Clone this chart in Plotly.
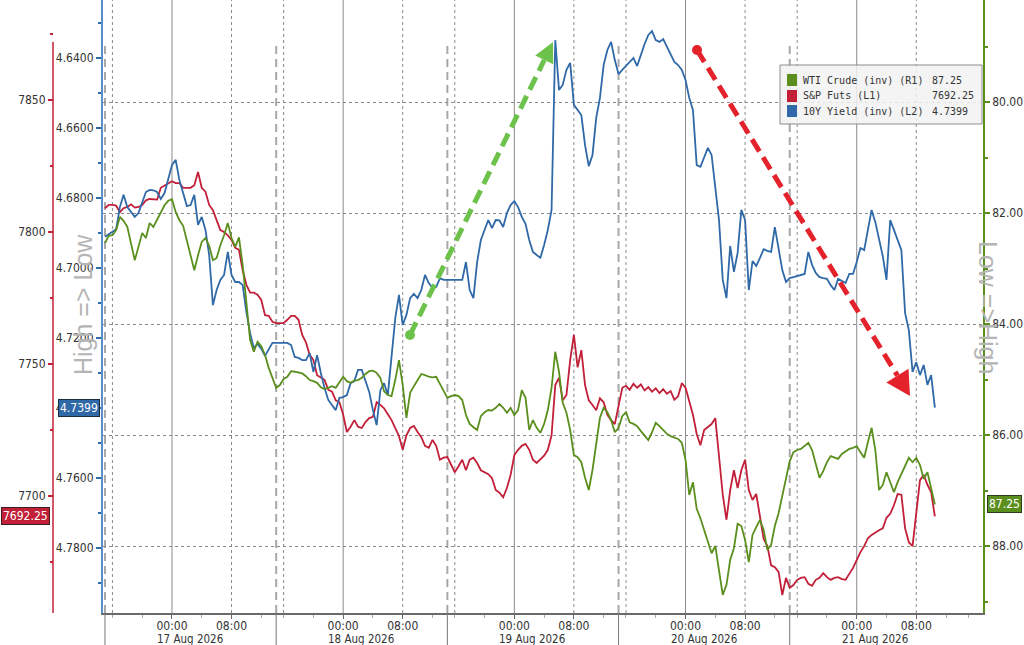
import math

import pandas as pd
import plotly.graph_objects as go

# 30-minute bars (Pacific time); the daily Globex break 14:00-15:00 is skipped
times = pd.date_range("2026-08-16 15:00", "2026-08-21 10:30", freq="30min")
times = times[times.hour != 14]

spx_futs = [
    7809.0, 7810.25, 7810.25, 7810.0, 7807.5, 7809.0, 7809.5, 7810.5, 7809.25, 7809.5,
    7810.25, 7812.0, 7812.5, 7812.5, 7812.25, 7816.75, 7817.5, 7818.5, 7819.25, 7818.5,
    7818.5, 7816.75, 7816.75, 7816.75, 7817.75, 7822.75, 7816.75, 7815.25, 7810.25, 7808.25,
    7804.5, 7800.75, 7800.0, 7798.75, 7797.0, 7794.0, 7793.25, 7785.5, 7780.0, 7777.0,
    7777.0, 7776.25, 7774.25, 7768.5, 7768.25, 7766.0, 7765.5, 7765.5, 7765.5, 7766.75,
    7768.25, 7768.25, 7766.75, 7761.0, 7758.25, 7753.5, 7751.5, 7745.75, 7744.75, 7744.0,
    7740.25, 7739.5, 7736.25, 7735.5, 7730.75, 7724.25, 7726.25, 7728.75, 7726.25, 7725.75,
    7728.0, 7729.5, 7730.0, 7735.5, 7734.5, 7733.25, 7731.0, 7728.75, 7725.75, 7722.75,
    7717.5, 7723.0, 7725.75, 7726.5, 7724.25, 7722.25, 7719.0, 7718.25, 7721.25, 7719.0,
    7713.75, 7714.5, 7714.75, 7711.75, 7709.0, 7711.25, 7713.75, 7709.75, 7713.75, 7714.5,
    7712.5, 7709.75, 7709.0, 7708.25, 7706.75, 7702.25, 7701.25, 7699.5, 7703.0, 7708.0,
    7715.5, 7717.5, 7719.0, 7719.75, 7717.5, 7713.75, 7712.5, 7713.75, 7715.25, 7717.5,
    7723.0, 7742.0, 7744.75, 7736.25, 7738.25, 7751.5, 7761.0, 7748.75, 7755.25, 7742.0,
    7736.25, 7734.5, 7732.5, 7737.0, 7735.5, 7730.75, 7728.75, 7727.25, 7733.75, 7741.0,
    7741.75, 7740.25, 7742.5, 7741.0, 7742.25, 7740.0, 7741.25, 7739.5, 7740.75, 7739.0,
    7740.5, 7738.75, 7739.75, 7736.5, 7737.75, 7742.75, 7741.0, 7735.5, 7730.75, 7723.5,
    7719.25, 7725.0, 7726.25, 7727.25, 7729.5, 7714.5, 7700.5, 7691.0, 7702.25, 7709.75,
    7703.0, 7709.75, 7713.75, 7702.25, 7698.5, 7700.75, 7692.75, 7683.75, 7681.0, 7673.75,
    7673.0, 7671.25, 7662.5, 7669.0, 7665.25, 7666.25, 7668.25, 7669.0, 7669.25, 7666.75,
    7666.0, 7668.25, 7669.0, 7670.75, 7669.25, 7668.25, 7669.0, 7669.25, 7668.5, 7668.25,
    7670.5, 7672.75, 7675.75, 7678.75, 7681.0, 7684.0, 7685.25, 7686.25, 7687.0, 7687.75,
    7691.75, 7693.25, 7696.5, 7700.75, 7700.5, 7687.75, 7682.5, 7681.0, 7692.75, 7706.0,
    7708.0, 7704.25, 7701.5, 7692.25,
]

us10y = [
    4.6911, 4.6903, 4.6897, 4.6889, 4.6826, 4.6791, 4.6826, 4.6840, 4.6854, 4.6843,
    4.6814, 4.6783, 4.6777, 4.6778, 4.6783, 4.6803, 4.6786, 4.6743, 4.6706, 4.6691,
    4.6749, 4.6786, 4.6823, 4.6820, 4.6791, 4.6877, 4.6854, 4.6891, 4.6963, 4.7106,
    4.7063, 4.7034, 4.7020, 4.6954, 4.7020, 4.7040, 4.7040, 4.7049, 4.7126, 4.7186,
    4.7229, 4.7217, 4.7231, 4.7251, 4.7234, 4.7214, 4.7214, 4.7214, 4.7214, 4.7214,
    4.7220, 4.7254, 4.7257, 4.7263, 4.7263, 4.7243, 4.7297, 4.7249, 4.7300, 4.7343,
    4.7377, 4.7391, 4.7406, 4.7371, 4.7369, 4.7363, 4.7329, 4.7323, 4.7291, 4.7291,
    4.7320, 4.7354, 4.7406, 4.7449, 4.7349, 4.7329, 4.7363, 4.7249, 4.7143, 4.7077,
    4.7163, 4.7134, 4.7086, 4.7074, 4.7086, 4.7063, 4.7020, 4.7043, 4.7057, 4.7054,
    4.7029, 4.7034, 4.7034, 4.7034, 4.7034, 4.7034, 4.7034, 4.6983, 4.7063, 4.7086,
    4.6983, 4.6920, 4.6891, 4.6863, 4.6886, 4.6863, 4.6864, 4.6883, 4.6843, 4.6820,
    4.6809, 4.6826, 4.6854, 4.6874, 4.6920, 4.6954, 4.6963, 4.6971, 4.6934, 4.6891,
    4.6834, 4.6349, 4.6491, 4.6477, 4.6434, 4.6414, 4.6534, 4.6549, 4.6563, 4.6649,
    4.6709, 4.6677, 4.6571, 4.6514, 4.6420, 4.6377, 4.6354, 4.6406, 4.6446, 4.6434,
    4.6423, 4.6411, 4.6400, 4.6423, 4.6391, 4.6360, 4.6334, 4.6323, 4.6349, 4.6354,
    4.6346, 4.6369, 4.6391, 4.6411, 4.6420, 4.6434, 4.6463, 4.6514, 4.6549, 4.6706,
    4.6711, 4.6686, 4.6657, 4.6677, 4.6777, 4.6863, 4.7034, 4.7086, 4.6937, 4.7011,
    4.6957, 4.6834, 4.6863, 4.7063, 4.6980, 4.6994, 4.6971, 4.6946, 4.6951, 4.6954,
    4.6883, 4.6949, 4.7006, 4.7040, 4.7029, 4.7026, 4.7023, 4.7020, 4.7017, 4.6954,
    4.6991, 4.7014, 4.7026, 4.7029, 4.7031, 4.7049, 4.7063, 4.7031, 4.7037, 4.7043,
    4.7017, 4.7017, 4.6983, 4.6943, 4.6949, 4.6886, 4.6834, 4.6869, 4.6914, 4.6966,
    4.7034, 4.6863, 4.6891, 4.6920, 4.6949, 4.7129, 4.7177, 4.7297, 4.7269, 4.7306,
    4.7277, 4.7334, 4.7306, 4.7399,
]

wti_crude = [
    82.54, 82.41, 82.40, 82.31, 82.07, 82.14, 82.25, 82.54, 82.85, 82.61,
    82.36, 82.45, 82.18, 82.25, 82.11, 81.98, 81.86, 81.78, 81.75, 81.98,
    82.13, 82.23, 82.49, 82.76, 83.03, 82.76, 82.52, 82.45, 82.59, 82.85,
    82.81, 82.58, 82.40, 82.18, 82.45, 82.61, 82.44, 82.94, 83.57, 84.29,
    84.50, 84.32, 84.40, 84.56, 84.79, 84.97, 85.15, 85.10, 84.99, 84.95,
    84.85, 84.86, 84.88, 84.89, 84.94, 85.01, 85.03, 85.06, 85.14, 85.17,
    85.15, 85.12, 85.15, 85.05, 84.95, 85.03, 85.06, 85.02, 85.01, 84.97,
    84.90, 84.85, 84.84, 84.88, 84.97, 85.21, 85.28, 85.30, 85.01, 84.65,
    85.10, 85.69, 85.24, 85.12, 85.01, 84.90, 84.92, 84.95, 84.96, 84.95,
    85.08, 85.21, 85.33, 85.30, 85.28, 85.30, 85.37, 85.64, 85.80, 85.86,
    85.91, 85.66, 85.59, 85.55, 85.56, 85.51, 85.44, 85.51, 85.60, 85.51,
    85.64, 85.55, 85.19, 85.33, 85.91, 85.73, 85.87, 85.96, 85.80, 85.55,
    85.15, 84.50, 84.86, 85.42, 85.60, 85.91, 86.36, 86.40, 86.49, 86.77,
    86.99, 86.63, 86.18, 85.69, 85.51, 85.59, 85.73, 85.95, 85.87, 85.66,
    85.59, 85.77, 85.80, 85.84, 85.93, 86.02, 86.09, 85.95, 85.78, 85.84,
    85.91, 85.98, 86.02, 86.04, 86.07, 86.14, 86.45, 87.08, 86.85, 87.33,
    87.50, 87.71, 87.93, 88.13, 88.00, 88.40, 88.88, 88.70, 88.25, 88.04,
    87.60, 87.64, 87.89, 88.29, 87.80, 87.66, 87.53, 87.71, 88.07, 87.98,
    87.64, 87.41, 87.08, 86.77, 86.47, 86.31, 86.27, 86.25, 86.20, 86.14,
    86.27, 86.54, 86.77, 86.65, 86.49, 86.38, 86.41, 86.43, 86.34, 86.29,
    86.25, 86.23, 86.20, 86.31, 86.41, 86.13, 85.87, 86.27, 86.99, 86.90,
    86.67, 86.85, 87.03, 86.85, 86.70, 86.54, 86.41, 86.49, 86.41, 86.54,
    86.79, 86.67, 86.94, 87.25,
]

days = ["2026-08-17", "2026-08-18", "2026-08-19", "2026-08-20", "2026-08-21"]
day_labels = ["17 Aug 2026", "18 Aug 2026", "19 Aug 2026", "20 Aug 2026", "21 Aug 2026"]
session_opens = ["2026-08-16", "2026-08-17", "2026-08-18", "2026-08-19", "2026-08-20"]

legend_names = ["WTI Crude (inv) (R1)", "S&amp;P Futs (L1)", "10Y Yield (inv) (L2)"]

GREEN = "#5b8f1d"
RED = "#c21f38"
BLUE = "#2f69a8"
FONT = "DejaVu Sans Condensed, Liberation Sans, sans-serif"

# plot frame in pixels (paper spans x 0..983, y 0..613 of the page)
PW, PH = 983, 613


def paper(x, y):
    return x / PW, (PH - y) / PH


assert len(times) == len(spx_futs) == len(us10y) == len(wti_crude)

fig = go.Figure()
fig.add_trace(go.Scatter(x=times, y=wti_crude, yaxis="y3", mode="lines",
                         line=dict(color=GREEN, width=1.8), name="WTI Crude (inv) (R1)"))
fig.add_trace(go.Scatter(x=times, y=spx_futs, yaxis="y", mode="lines",
                         line=dict(color=RED, width=1.8), name="S&P Futs (L1)"))
fig.add_trace(go.Scatter(x=times, y=us10y, yaxis="y2", mode="lines",
                         line=dict(color=BLUE, width=1.8), name="10Y Yield (inv) (L2)"))

shapes = []
# vertical grid: solid at midnight, dotted at 08:00 / 16:00, dashed at session open
for d in days:
    shapes.append(dict(type="line", xref="x", yref="paper", x0=f"{d} 00:00", x1=f"{d} 00:00",
                       y0=0, y1=1, line=dict(color="#8a8a8a", width=1), layer="below"))
    shapes.append(dict(type="line", xref="x", yref="paper", x0=f"{d} 08:00", x1=f"{d} 08:00",
                       y0=0, y1=1, line=dict(color="#8a8a8a", width=1, dash="dot"), layer="below"))
for d in session_opens:
    shapes.append(dict(type="line", xref="x", yref="paper", x0=f"{d} 15:00", x1=f"{d} 15:00",
                       y0=0, y1=0.93, line=dict(color="#a8a8a8", width=2, dash="8px,5px"), layer="below"))
    shapes.append(dict(type="line", xref="x", yref="paper", x0=f"{d} 16:00", x1=f"{d} 16:00",
                       y0=0, y1=1, line=dict(color="#8a8a8a", width=1, dash="dot"), layer="below"))
    shapes.append(dict(type="line", xref="x", yref="paper", x0=f"{d} 15:00", x1=f"{d} 15:00",
                       y0=-32 / PH, y1=0, line=dict(color="#777777", width=1)))

# L1 axis line (starts a little below the top)
shapes.append(dict(type="line", xref="paper", yref="paper", x0=53 / PW, x1=53 / PW,
                   y0=0, y1=(PH - 42) / PH, line=dict(color=RED, width=1.5)))

# legend box
lx0, ly0 = paper(780, 124)
lx1, ly1 = paper(982, 65)
shapes.append(dict(type="rect", xref="paper", yref="paper", x0=lx0, y0=ly0, x1=lx1, y1=ly1,
                   fillcolor="rgba(242,242,242,0.85)", line=dict(color="#8c8c8c", width=1),
                   layer="above"))

annotations = []
rows = [(legend_names[0], f"{wti_crude[-1]:.2f}", GREEN, 80),
        (legend_names[1], f"{spx_futs[-1]:.2f}", RED, 96),
        (legend_names[2], f"{us10y[-1]:.4f}", BLUE, 111)]
for name, val, col, ypx in rows:
    sx0, sy0 = paper(787, ypx + 6)
    sx1, sy1 = paper(797, ypx - 6)
    shapes.append(dict(type="rect", xref="paper", yref="paper", x0=sx0, y0=sy0, x1=sx1, y1=sy1,
                       fillcolor=col, line=dict(width=0), layer="above"))
    ax_, ay_ = paper(801, ypx)
    annotations.append(dict(xref="paper", yref="paper", x=ax_, y=ay_, xanchor="left",
                            yanchor="middle", text=name, showarrow=False,
                            font=dict(family="DejaVu Sans Mono", size=10, color="#333")))
    vx, vy = paper(930, ypx)
    annotations.append(dict(xref="paper", yref="paper", x=vx, y=vy, xanchor="left",
                            yanchor="middle", text=val, showarrow=False,
                            font=dict(family="DejaVu Sans Mono", size=10, color="#333")))


def add_arrow(x0, y0, x1, y1, color, head_len=22, head_w=22):
    dx, dy = x1 - x0, y1 - y0
    n = math.hypot(dx, dy)
    ux, uy = dx / n, dy / n
    bx, by = x1 - ux * head_len, y1 - uy * head_len
    p0, p1 = paper(x0, y0), paper(bx, by)
    shapes.append(dict(type="line", xref="paper", yref="paper", x0=p0[0], y0=p0[1],
                       x1=p1[0], y1=p1[1], line=dict(color=color, width=5, dash="14px,7px"),
                       layer="above"))
    nx, ny = -uy, ux
    pts = [paper(x1, y1), paper(bx + nx * head_w / 2, by + ny * head_w / 2),
           paper(bx - nx * head_w / 2, by - ny * head_w / 2)]
    path = "M {} {} L {} {} L {} {} Z".format(*[c for p in pts for c in p])
    shapes.append(dict(type="path", xref="paper", yref="paper", path=path,
                       fillcolor=color, line=dict(width=0), layer="above"))
    shapes.append(dict(type="circle", xref="paper", yref="paper", xsizemode="pixel",
                       ysizemode="pixel", xanchor=p0[0], yanchor=p0[1], x0=-5, x1=5, y0=-5, y1=5,
                       fillcolor=color, line=dict(width=0), layer="above"))


add_arrow(410, 335, 553, 42, "#6cc24a", head_len=20, head_w=20)
add_arrow(697, 50, 910, 396, "#e3222b", head_len=24, head_w=26)

# date labels under the 00:00 ticks (left aligned like the terminal)
for d, lab in zip(days, day_labels):
    annotations.append(dict(xref="x", yref="paper", x=f"{d} 00:00", y=-25.5 / PH,
                            xanchor="left", xshift=-17, yanchor="middle", text=lab,
                            showarrow=False, font=dict(family=FONT, size=11.5, color="#333")))

# scale direction hints
hx, hy = paper(67, 305)
annotations.append(dict(xref="paper", yref="paper", x=hx, y=hy, text="High =&gt; Low",
                        textangle=-90, showarrow=False,
                        font=dict(family="Liberation Sans", size=25, color="#b5b5b5")))
hx, hy = paper(1004, 307)
annotations.append(dict(xref="paper", yref="paper", x=hx, y=hy, text="Low =&gt;High",
                        textangle=90, showarrow=False,
                        font=dict(family="Liberation Sans", size=25, color="#b5b5b5")))

# last-value flags
annotations.append(dict(xref="paper", yref="y2", x=100 / PW, y=us10y[-1], xanchor="right",
                        text=f"{us10y[-1]:.4f}", showarrow=False, bgcolor=BLUE,
                        bordercolor="#1d2c3c", borderwidth=1, borderpad=1,
                        font=dict(family=FONT, size=12, color="white")))
annotations.append(dict(xref="paper", yref="y", x=50 / PW, y=spx_futs[-1], xanchor="right",
                        text=f"{spx_futs[-1]:.2f}", showarrow=False, bgcolor=RED,
                        bordercolor="#3c1d1d", borderwidth=1, borderpad=1,
                        font=dict(family=FONT, size=12, color="white")))
annotations.append(dict(xref="paper", yref="y3", x=987 / PW, y=wti_crude[-1], xanchor="left",
                        text=f"{wti_crude[-1]:.2f}", showarrow=False, bgcolor=GREEN,
                        bordercolor="#2c3c1d", borderwidth=1, borderpad=1,
                        font=dict(family=FONT, size=12, color="white")))

tickvals, ticktext = [], []
for d in days:
    tickvals += [f"{d} 00:00", f"{d} 08:00"]
    ticktext += ["00:00", "08:00"]

fig.update_layout(
    width=1024, height=645,
    margin=dict(l=0, r=41, t=0, b=32),
    paper_bgcolor="white", plot_bgcolor="white",
    showlegend=False,
    font=dict(family=FONT, size=12, color="#333"),
    xaxis=dict(
        domain=[103 / PW, 1], type="date",
        range=["2026-08-16 13:44", "2026-08-21 17:58"],
        rangebreaks=[dict(bounds=[14, 15], pattern="hour")],
        tickmode="array", tickvals=tickvals, ticktext=ticktext,
        ticks="outside", ticklen=4, tickcolor="#666", ticklabelstandoff=-3,
        minor=dict(dtick=4 * 3600 * 1000, ticks="outside", ticklen=3, tickcolor="#aaa"),
        showgrid=False, zeroline=False,
        showline=True, linecolor="#6a6a6a", linewidth=1.5,
        tickfont=dict(size=12, color="#333"),
    ),
    yaxis=dict(
        range=[7655.68, 7887.88], anchor="free", position=53 / PW, side="left",
        tick0=7700, dtick=50, ticks="outside", ticklen=5, tickwidth=2, tickcolor=RED,
        minor=dict(dtick=25, ticks="outside", ticklen=3, tickcolor=RED),
        showgrid=False, zeroline=False, showline=False,
        tickfont=dict(size=12, color="#333"),
    ),
    yaxis2=dict(
        range=[4.79857, 4.62343], overlaying="y", anchor="x", side="left",
        tick0=4.64, dtick=0.02, tickformat=".4f",
        ticks="outside", ticklen=5, tickwidth=2, tickcolor=BLUE,
        minor=dict(dtick=0.01, ticks="outside", ticklen=3, tickcolor=BLUE),
        showgrid=False, zeroline=False,
        showline=True, linecolor="#5b8fc7", linewidth=2,
        tickfont=dict(size=12, color="#333"),
    ),
    yaxis3=dict(
        range=[89.207, 78.162], overlaying="y", anchor="x", side="right",
        tick0=80, dtick=2, tickformat=".2f",
        ticks="outside", ticklen=5, tickwidth=2, tickcolor=GREEN,
        minor=dict(dtick=1, ticks="outside", ticklen=3, tickcolor=GREEN),
        showgrid=True, gridcolor="#8a8a8a", griddash="dot", gridwidth=1,
        zeroline=False, showline=True, linecolor=GREEN, linewidth=1.5,
        tickfont=dict(size=12, color="#333"),
    ),
    shapes=shapes,
    annotations=annotations,
)

# the page body has a default 8px margin; drop it so the figure sits at the corner
fig.write_html("out.html", config={"displayModeBar": False},
               post_script="document.body.style.margin='0px';")
